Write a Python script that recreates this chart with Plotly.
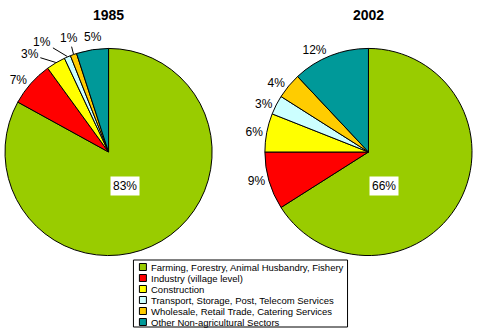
import math
import plotly.graph_objects as go

W, H = 477, 334

categories = [
    "Farming, Forestry, Animal Husbandry, Fishery",
    "Industry (village level)",
    "Construction",
    "Transport, Storage, Post, Telecom Services",
    "Wholesale, Retail Trade, Catering Services",
    "Other Non-agricultural Sectors",
]
years = ["1985", "2002"]
values_1985 = [83, 7, 3, 1, 1, 5]
values_2002 = [66, 9, 6, 3, 4, 12]
colors = ["#99CC00", "#FF0000", "#FFFF00", "#CCFFFF", "#FFCC00", "#009999"]

LABEL_FONT = dict(family="Liberation Sans, Arial", size=12, color="black")


def px_x(x):
    return x / W


def px_y(y):
    return 1 - y / H


# pie geometry (pixels): center x, center y, radius
pies = [(107, 152, 104), (368, 152, 104)]

# for the crowded 1985 small slices: label offsets (px) from slice edge, and whether to draw a leader line
callouts_1985 = {2: (-26, -8, True), 3: (-25, -15, True), 4: (-4, -16, True), 5: (1, -12, False)}

fig = go.Figure()
for k, ((cx, cy, r), vals, yr) in enumerate(zip(pies, [values_1985, values_2002], years)):
    callouts = callouts_1985 if k == 0 else {}
    texts = []
    for i, v in enumerate(vals):
        texts.append("" if (i == 0 or i in callouts) else f"{v}%")
    fig.add_trace(go.Pie(
        labels=categories,
        values=vals,
        text=texts,
        textinfo="text",
        textposition="outside",
        textfont=LABEL_FONT,
        sort=False,
        direction="clockwise",
        rotation=0,
        marker=dict(colors=colors, line=dict(color="black", width=1)),
        domain=dict(x=[px_x(cx - r), px_x(cx + r)], y=[px_y(cy + r), px_y(cy - r)]),
        showlegend=False,
        hoverinfo="label+percent",
    ))
    # callout labels for crowded slices
    total = sum(vals)
    cum = 0
    for i, v in enumerate(vals):
        mid = (cum + v / 2) / total * 2 * math.pi
        cum += v
        if i not in callouts:
            continue
        ex = cx + r * math.sin(mid)
        ey = cy - r * math.cos(mid)
        dx, dy, line = callouts[i]
        if line:
            fig.add_annotation(x=px_x(ex), y=px_y(ey), xref="paper", yref="paper",
                               text=f"{v}%", showarrow=True, ax=dx, ay=dy,
                               arrowhead=0, arrowwidth=1, arrowcolor="black",
                               standoff=0, startstandoff=0, font=LABEL_FONT,
                               xanchor="center", yanchor="middle")
        else:
            fig.add_annotation(x=px_x(ex), y=px_y(ey), xref="paper", yref="paper",
                               text=f"{v}%", showarrow=False, xshift=dx, yshift=-dy,
                               font=LABEL_FONT, xanchor="center", yanchor="middle")
    # big-slice label with white box
    fig.add_annotation(x=px_x(cx), y=px_y(cy), xref="paper", yref="paper",
                       text=f"{vals[0]}%", showarrow=False, xshift=16, yshift=-34,
                       xanchor="center", yanchor="middle",
                       bgcolor="white", font=LABEL_FONT, borderpad=2)
    # title
    fig.add_annotation(x=px_x(cx), y=px_y(15), xref="paper", yref="paper",
                       text=f"<b>{yr}</b>", showarrow=False,
                       xanchor="center", yanchor="middle",
                       font=dict(family="Liberation Sans, Arial", size=14, color="black"))

# manual legend
shapes = [dict(type="rect", xref="paper", yref="paper",
               x0=px_x(132), x1=px_x(347), y0=px_y(327), y1=px_y(260),
               line=dict(color="black", width=1), fillcolor="white", layer="below")]
for i, (cat, col) in enumerate(zip(categories, colors)):
    yc = 267 + 11 * i
    shapes.append(dict(type="rect", xref="paper", yref="paper",
                       x0=px_x(138), x1=px_x(145), y0=px_y(yc + 3.5), y1=px_y(yc - 3.5),
                       line=dict(color="black", width=1), fillcolor=col))
    fig.add_annotation(x=px_x(148), y=px_y(yc), xref="paper", yref="paper",
                       text=cat, showarrow=False, xanchor="left", yanchor="middle",
                       font=dict(family="Liberation Sans, Arial", size=9.5, color="black"))

fig.update_layout(
    width=W, height=H,
    margin=dict(l=0, r=0, t=0, b=0),
    paper_bgcolor="white",
    plot_bgcolor="white",
    shapes=shapes,
)

fig.write_html("out.html")
